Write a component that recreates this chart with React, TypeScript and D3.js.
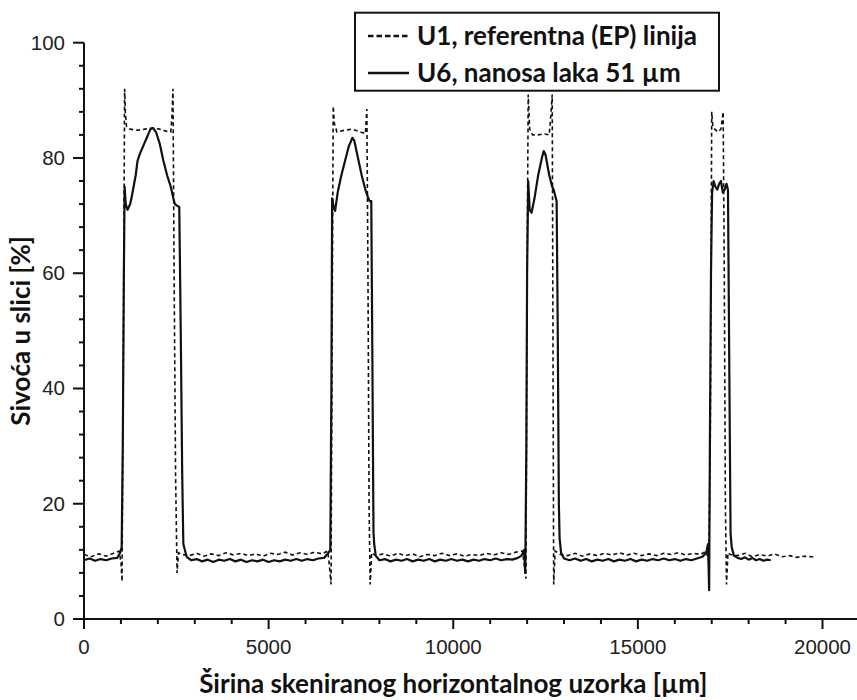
import React from 'react';
import * as d3 from 'd3';

// U1 – reference (EP) line, dashed
const U1_X = [0, 200, 400, 600, 800, 950, 1000, 1030, 1060, 1100, 1120, 1150, 1250, 1450, 1650, 1850, 2050, 2250, 2350, 2380, 2410, 2440, 2480, 2520, 2560, 2650, 2850, 3050, 3250, 3450, 3650, 3850, 4050, 4250, 4450, 4650, 4850, 5050, 5250, 5450, 5650, 5850, 6050, 6250, 6450, 6600, 6650, 6690, 6720, 6750, 6780, 6850, 7050, 7250, 7450, 7620, 7660, 7690, 7720, 7750, 7790, 7900, 8100, 8300, 8500, 8700, 8900, 9100, 9300, 9500, 9700, 9900, 10100, 10300, 10500, 10700, 10900, 11100, 11300, 11500, 11700, 11880, 11930, 11970, 12000, 12030, 12070, 12150, 12300, 12450, 12600, 12650, 12680, 12700, 12720, 12760, 12900, 13100, 13300, 13500, 13700, 13900, 14100, 14300, 14500, 14700, 14900, 15100, 15300, 15500, 15700, 15900, 16100, 16300, 16500, 16700, 16850, 16920, 16960, 17000, 17030, 17080, 17160, 17250, 17310, 17340, 17370, 17400, 17440, 17500, 17700, 17900, 18100, 18300, 18500, 18700, 18900, 19100, 19300, 19500, 19700, 19800];
const U1_Y = [11.2, 10.8, 11.3, 10.9, 11.4, 11.8, 10, 6.5, 40, 92, 88, 85.5, 85, 84.8, 85, 85.2, 85, 84.6, 84.5, 87, 92, 60, 25, 8, 11.5, 11.2, 11, 11.4, 10.9, 11.3, 11, 11.5, 11.1, 11.4, 11, 11.3, 10.9, 11.4, 11.2, 11.6, 11.1, 11.5, 11.2, 11.6, 11.3, 11.8, 9, 6, 50, 89, 86, 84.5, 84.8, 85, 84.6, 84.2, 88.5, 60, 20, 6, 11.5, 11, 11.3, 10.9, 11.4, 11, 11.3, 10.8, 11.2, 11, 11.4, 11, 11.3, 10.9, 11.2, 11, 11.4, 11.1, 11.5, 11.2, 11.6, 11.8, 9, 7, 60, 91, 85, 84, 84, 84.2, 84, 88, 91, 50, 6, 11.8, 11.2, 11, 11.4, 10.9, 11.3, 11, 11.4, 11.1, 11.5, 11.1, 11.4, 11, 11.3, 11, 11.4, 11.2, 11.5, 11.1, 11.4, 11.2, 11.8, 10, 30, 88, 85.5, 85, 84.5, 85, 88, 60, 20, 6, 11.5, 11.2, 11, 11.4, 10.8, 11.2, 10.9, 11.3, 10.8, 11, 10.7, 10.9, 10.8, 10.7];

// U6 – 51 µm lacquer, solid
const U6_X = [0, 150, 300, 450, 600, 750, 900, 980, 1020, 1050, 1080, 1100, 1130, 1180, 1250, 1300, 1400, 1450, 1500, 1600, 1700, 1800, 1870, 1950, 2050, 2150, 2250, 2350, 2420, 2460, 2500, 2580, 2620, 2660, 2690, 2730, 2780, 2900, 3050, 3200, 3350, 3500, 3650, 3800, 3950, 4100, 4250, 4400, 4550, 4700, 4850, 5000, 5150, 5300, 5450, 5600, 5750, 5900, 6050, 6200, 6350, 6500, 6620, 6670, 6700, 6720, 6760, 6800, 6870, 6970, 7070, 7170, 7270, 7320, 7420, 7520, 7620, 7700, 7740, 7780, 7810, 7840, 7860, 7900, 8000, 8150, 8300, 8450, 8600, 8750, 8900, 9050, 9200, 9350, 9500, 9650, 9800, 9950, 10100, 10250, 10400, 10550, 10700, 10850, 11000, 11150, 11300, 11450, 11600, 11750, 11850, 11920, 11950, 11980, 12000, 12030, 12070, 12120, 12200, 12300, 12400, 12450, 12500, 12600, 12680, 12720, 12760, 12800, 12830, 12860, 12880, 12920, 13000, 13150, 13300, 13450, 13600, 13750, 13900, 14050, 14200, 14350, 14500, 14650, 14800, 14950, 15100, 15250, 15400, 15550, 15700, 15850, 16000, 16150, 16300, 16450, 16600, 16750, 16850, 16900, 16930, 16950, 16980, 17010, 17050, 17100, 17150, 17200, 17250, 17300, 17350, 17400, 17440, 17480, 17510, 17540, 17600, 17700, 17800, 17900, 18000, 18100, 18200, 18300, 18400, 18500, 18600];
const U6_Y = [10.2, 10.5, 10.1, 10.4, 10.2, 10.5, 10.6, 11.5, 12.5, 30, 60, 75, 72, 71, 72, 73.5, 77, 79.5, 80.5, 82, 83.5, 85, 85.2, 84.5, 82.5, 79.5, 77, 75, 73, 72, 71.8, 71.5, 50, 25, 13, 12, 10.8, 10.2, 10.4, 10, 10.3, 9.9, 10.3, 10.1, 10.4, 10, 10.3, 9.9, 10.2, 10, 10.3, 9.9, 10.2, 10, 10.3, 10.1, 10.4, 10.1, 10.4, 10.2, 10.5, 10.6, 11.5, 12, 40, 73, 71.5, 70.8, 74, 77, 79.5, 82, 83.5, 83, 80, 77, 74.5, 73, 72.5, 72.5, 45, 15, 13, 11, 10.2, 10.4, 10, 10.3, 10.1, 10.4, 10, 10.3, 10.1, 10.4, 10, 10.3, 10.1, 10.4, 10.1, 10.3, 10, 10.3, 10.1, 10.4, 10.2, 10.5, 10.2, 10.4, 10.3, 10.6, 11, 12, 8, 30, 60, 76, 71, 70.5, 73, 77, 80, 81.2, 80.5, 77, 75, 74.5, 73.5, 72.5, 50, 20, 14, 11.5, 10.5, 10.2, 10.5, 10.1, 10.4, 10, 10.3, 10.1, 10.4, 10, 10.3, 10.1, 10.4, 10, 10.3, 10.1, 10.4, 10.2, 10.5, 10.2, 10.4, 10.1, 10.4, 10.2, 10.5, 10.8, 11.5, 13, 5, 30, 60, 74, 76, 75, 74.5, 75.5, 76, 74, 74.5, 75.5, 74.5, 40, 15, 12.5, 11, 10.6, 10.4, 10.7, 10.3, 10.6, 10.2, 10.4, 10.1, 10.3, 10.2];

const X_TICKS = [0, 5000, 10000, 15000, 20000];
const X_MINOR = [1000, 2000, 3000, 4000, 6000, 7000, 8000, 9000, 11000, 12000, 13000, 14000, 16000, 17000, 18000, 19000];
const Y_TICKS = [0, 20, 40, 60, 80, 100];
const Y_MINOR = [4, 8, 12, 16, 24, 28, 32, 36, 44, 48, 52, 56, 64, 68, 72, 76, 84, 88, 92, 96];
const LEGEND = ['U1, referentna (EP) linija', 'U6, nanosa laka 51 µm'];
const X_TITLE = 'Širina skeniranog horizontalnog uzorka [µm]';
const Y_TITLE = 'Sivoća u slici [%]';

export default function App() {
  const W = 857, H = 700;
  const x = d3.scaleLinear().domain([0, 20000]).range([84, 822.5]);
  const y = d3.scaleLinear().domain([0, 100]).range([619, 42.7]);
  const line = d3.line<[number, number]>().x(d => x(d[0])).y(d => y(d[1]));
  const u1 = line(U1_X.map((v, i) => [v, U1_Y[i]]) as [number, number][]) || '';
  const u6 = line(U6_X.map((v, i) => [v, U6_Y[i]]) as [number, number][]) || '';
  const bold = "Lato, 'Open Sans', sans-serif";
  const tickFont = "'Liberation Sans', Arial, sans-serif";
  return (
    <svg width={W} height={H} style={{ position: 'absolute', left: 0, top: 0, background: '#fff' }}>
      <rect width={W} height={H} fill="#fff" />
      {/* curves */}
      <path d={u1} fill="none" stroke="#111" strokeWidth={1.6} strokeDasharray="4,3" />
      <path d={u6} fill="none" stroke="#111" strokeWidth={2.2} strokeLinejoin="round" />
      {/* axes */}
      <line x1={x(0)} x2={857} y1={y(0)} y2={y(0)} stroke="#111" strokeWidth={2} />
      <line x1={x(0)} x2={x(0)} y1={y(0)} y2={y(100)} stroke="#111" strokeWidth={2} />
      {X_TICKS.map(t => (
        <g key={'xt' + t}>
          <line x1={x(t)} x2={x(t)} y1={y(0)} y2={y(0) + 10} stroke="#111" strokeWidth={2} />
          <text x={x(t)} y={y(0) + 35} textAnchor="middle" fontFamily={tickFont} fontSize={20.5} fill="#222">{t}</text>
        </g>
      ))}
      {X_MINOR.map(t => (
        <line key={'xm' + t} x1={x(t)} x2={x(t)} y1={y(0)} y2={y(0) + 5} stroke="#111" strokeWidth={2} />
      ))}
      {Y_TICKS.map(t => (
        <g key={'yt' + t}>
          <line x1={x(0) - 11} x2={x(0)} y1={y(t)} y2={y(t)} stroke="#111" strokeWidth={2} />
          <text x={x(0) - 19} y={y(t) + 7} textAnchor="end" fontFamily={tickFont} fontSize={20.5} fill="#222">{t}</text>
        </g>
      ))}
      {Y_MINOR.map(t => (
        <line key={'ym' + t} x1={x(0) - 5} x2={x(0)} y1={y(t)} y2={y(t)} stroke="#111" strokeWidth={2} />
      ))}
      {/* titles */}
      <text x={(x(0) + x(20000)) / 2} y={693} textAnchor="middle" fontFamily={bold} fontWeight="bold" fontSize={26} fill="#111">{X_TITLE}</text>
      <text transform={`translate(30, ${(y(0) + y(100)) / 2}) rotate(-90)`} textAnchor="middle" fontFamily={bold} fontWeight="bold" fontSize={26} fill="#111">{Y_TITLE}</text>
      {/* legend */}
      <rect x={355} y={12.7} width={364} height={78} fill="#fff" stroke="#111" strokeWidth={2} />
      <line x1={368} x2={409} y1={36} y2={36} stroke="#111" strokeWidth={2.4} strokeDasharray="5.5,3" />
      <text x={417} y={45} fontFamily={bold} fontWeight="bold" fontSize={26} fill="#111">{LEGEND[0]}</text>
      <line x1={368} x2={409} y1={73} y2={73} stroke="#111" strokeWidth={2.4} />
      <text x={417} y={82} fontFamily={bold} fontWeight="bold" fontSize={26} fill="#111">{LEGEND[1]}</text>
    </svg>
  );
}
